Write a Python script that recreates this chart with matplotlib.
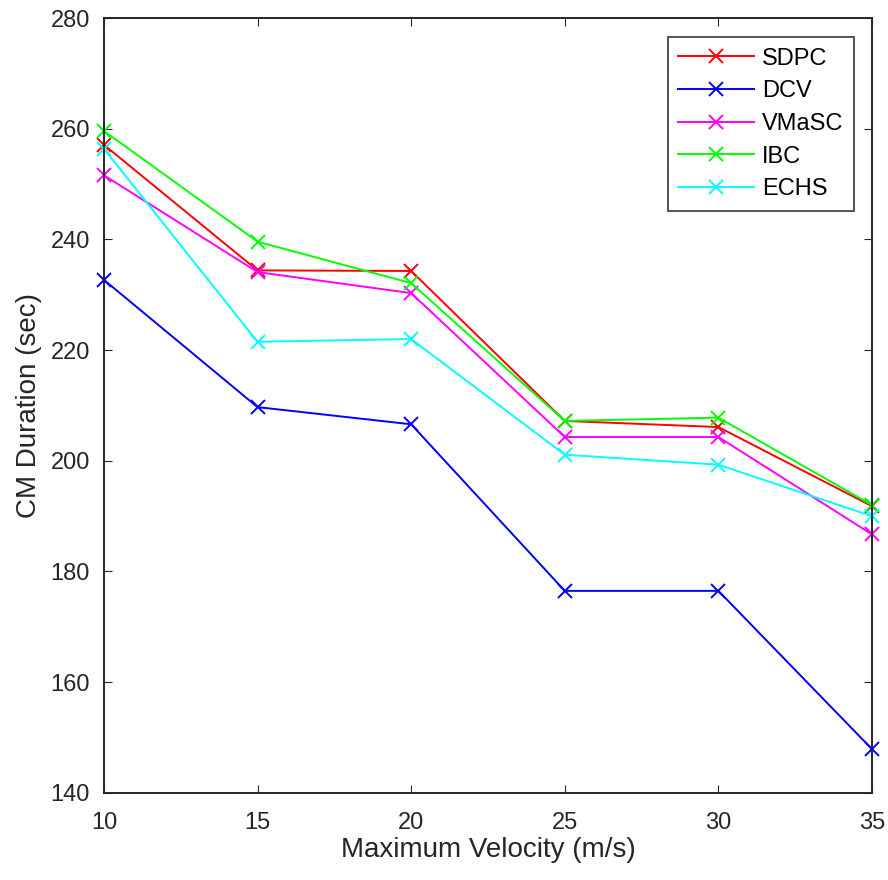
import matplotlib
matplotlib.use('Agg')
import matplotlib.pyplot as plt

# data
velocity = [10, 15, 20, 25, 30, 35]
sdpc = [257.1, 234.4, 234.3, 207.2, 206.1, 191.8]
dcv = [232.7, 209.7, 206.6, 176.5, 176.5, 147.9]
vmasc = [251.6, 234.1, 230.3, 204.3, 204.3, 186.7]
ibc = [259.6, 239.6, 232.1, 207.2, 207.8, 192.0]
echs = [256.4, 221.5, 222.0, 201.1, 199.3, 190.0]

plt.rcParams['font.family'] = ['Liberation Sans', 'DejaVu Sans']

fig = plt.figure(figsize=(8.88, 8.8), dpi=100)
ax = fig.add_axes([0.117, 0.099, 0.865, 0.8805])

series = [(sdpc, 'SDPC', '#ff0000'), (dcv, 'DCV', '#0000ff'),
          (vmasc, 'VMaSC', '#ff00ff'), (ibc, 'IBC', '#00ff00'),
          (echs, 'ECHS', '#00ffff')]
for vals, name, col in series:
    ax.plot(velocity, vals, color=col, marker='x', markersize=10,
            markeredgewidth=1.4, linewidth=1.4, label=name, clip_on=False)

ax.set_xlim(10, 35)
ax.set_ylim(140, 280)
ax.set_xticks(velocity)
ax.set_yticks(range(140, 281, 20))
ax.tick_params(direction='in', length=6, labelsize=17, colors='#262626',
               top=True, right=True)
ax.tick_params(axis='x', pad=14)
ax.tick_params(axis='y', pad=10)
for s in ax.spines.values():
    s.set_color('#262626')
    s.set_linewidth(1.4)

ax.set_xlabel('Maximum Velocity (m/s)', fontsize=20, color='#262626', labelpad=2)
ax.set_ylabel('CM Duration (sec)', fontsize=20, color='#262626', labelpad=6)

leg = ax.legend(loc='upper right', bbox_to_anchor=(0.9765, 0.9755), fontsize=17,
                fancybox=False, edgecolor='#262626', handlelength=3.2,
                borderpad=0.45, labelspacing=0.45, handletextpad=0.35,
                borderaxespad=0.0)
leg.get_frame().set_linewidth(1.4)

fig.savefig('out.png', dpi=100)
